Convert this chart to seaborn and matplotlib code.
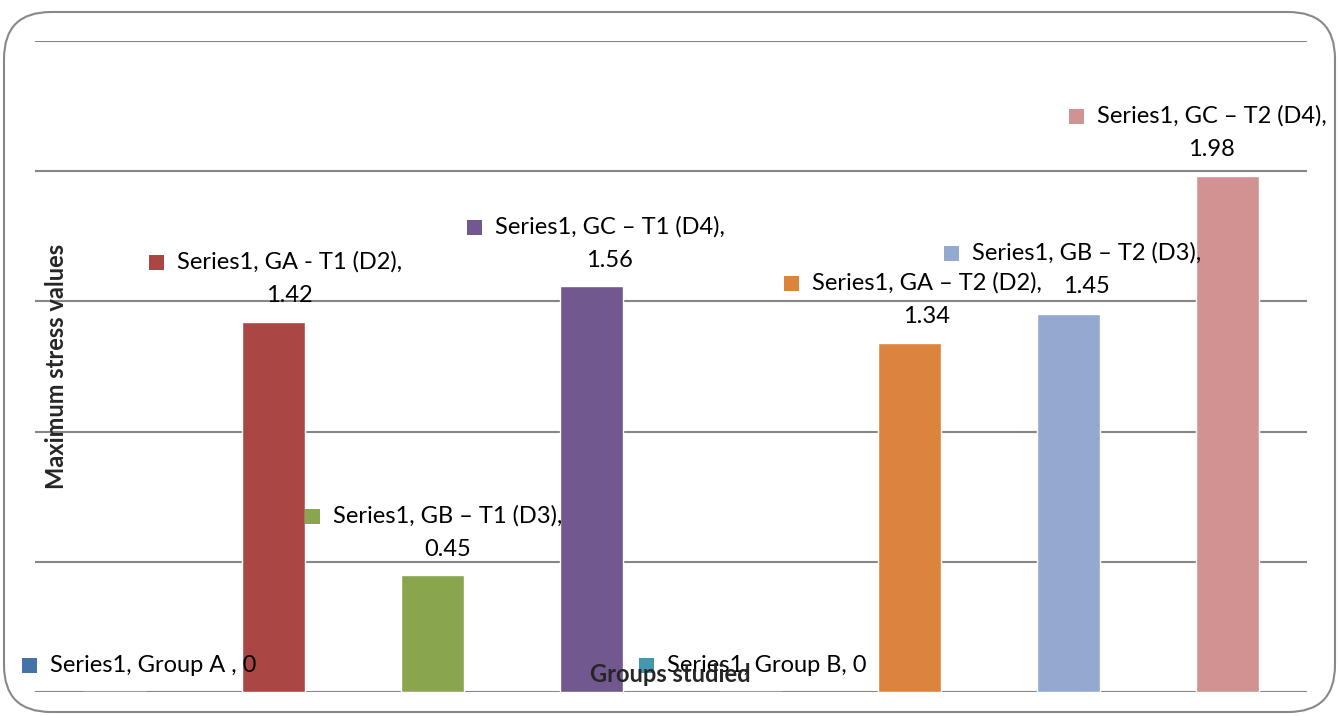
import matplotlib
matplotlib.use('Agg')
import matplotlib.pyplot as plt
import seaborn as sns
import pandas as pd
from matplotlib.patches import FancyBboxPatch, Rectangle

# data
groups = ['Group A ', 'GA - T1 (D2)', 'GB \u2013 T1 (D3)', 'GC \u2013 T1 (D4)',
          'Group B', 'GA \u2013 T2 (D2)', 'GB \u2013 T2 (D3)', 'GC \u2013 T2 (D4)']
stress = [0, 1.42, 0.45, 1.56, 0, 1.34, 1.45, 1.98]
colors = ['#4572A7', '#AA4643', '#89A54E', '#71588F',
          '#4198AF', '#DB843D', '#93A9CF', '#D19392']

df = pd.DataFrame({'group': groups, 'stress': stress})

W, H = 1339, 716
sns.set_style('white')
plt.rcParams['font.family'] = ['Lato', 'DejaVu Sans']

fig = plt.figure(figsize=(W / 100, H / 100), dpi=100)
ax = fig.add_axes([35 / W, 1 - 692 / H, (1307 - 35) / W, (692 - 41) / H])

sns.barplot(data=df, x='group', y='stress', hue='group', palette=colors,
            width=0.4, saturation=1, legend=False, ax=ax, zorder=2)
ax.set_ylim(0, 2.5)
ax.set_yticks([0, 0.5, 1.0, 1.5, 2.0, 2.5])
ax.yaxis.grid(True, color='#868686', linewidth=1.5, zorder=0)
ax.set_axisbelow(True)
ax.set_xticks([])
ax.set_yticklabels([])
ax.tick_params(left=False, bottom=False)
ax.set_xlabel('')
ax.set_ylabel('')
for s in ax.spines.values():
    s.set_visible(False)

# outer rounded border
fig.patches.append(FancyBboxPatch((4 / W, 4 / H), 1331 / W, 700 / H,
                                  boxstyle='round,pad=0,rounding_size=0.035',
                                  transform=fig.transFigure, fill=False,
                                  edgecolor='#888888', linewidth=1.5,
                                  mutation_aspect=W / H))

# data label layout (pixels): square left x, first text line y
label_pos = [(22, 665), (149, 262), (305, 516), (467, 227),
             (639, 665), (784, 283), (944, 253), (1069, 116)]

for (px, py), g, v, c in zip(label_pos, groups, stress, colors):
    fig.patches.append(Rectangle((px / W, (H - py - 7.5) / H), 15 / W, 15 / H,
                                 transform=fig.transFigure, facecolor=c,
                                 edgecolor='none'))
    if v == 0:
        txt = 'Series1, %s, 0' % g
        ty = py
    else:
        txt = 'Series1, %s,\n%.2f' % (g, v)
        ty = py + 16.5
    fig.text((px + 28) / W, 1 - ty / H, txt, ha='left', va='center',
             multialignment='center', fontsize=17, linespacing=1.75,
             color='black')

fig.text(57 / W, 1 - 366 / H, 'Maximum stress values', rotation=90,
         ha='center', va='center', fontsize=17, fontweight='bold')
fig.text(670 / W, 1 - 675 / H, 'Groups studied', ha='center', va='center',
         fontsize=17, fontweight='bold')

fig.savefig('out.png', dpi=100)
